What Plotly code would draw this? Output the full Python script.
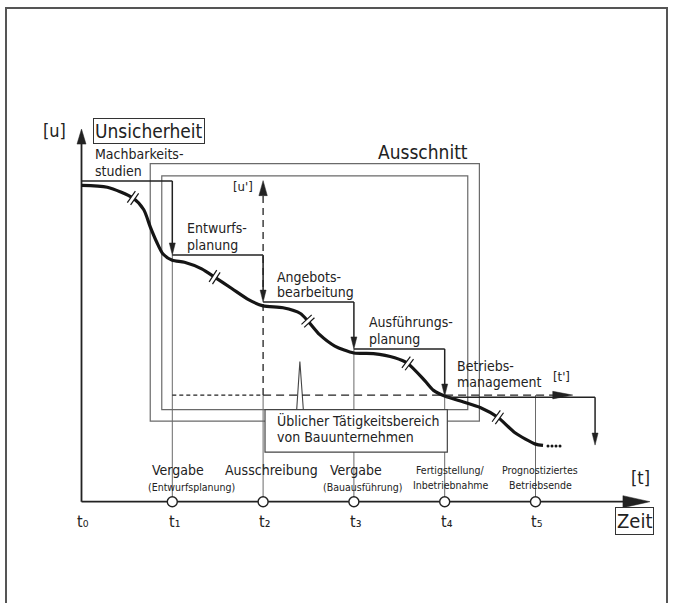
import math
import plotly.graph_objects as go

# ---------------- data (t = time in phase units, u = uncertainty) ----------------
tick_t = [0, 1, 2, 3, 4, 5]
tick_names = ["t₀", "t₁", "t₂", "t₃", "t₄", "t₅"]

curve_t = [0.0, 0.284, 0.567, 0.686, 0.757, 0.828, 0.898, 1.0, 1.134, 1.324, 1.466, 1.655, 1.845, 2.0,
           2.219, 2.411, 2.494, 2.623, 2.790, 3.0, 3.215, 3.45, 3.593, 3.783, 3.877, 4.0,
           4.207, 4.396, 4.585, 4.774, 5.0, 5.083]
curve_u = [10.0, 9.94, 9.60, 9.23, 8.69, 8.21, 7.83, 7.63, 7.57, 7.36, 7.10, 6.74, 6.38, 6.19,
           6.13, 5.95, 5.71, 5.28, 4.92, 4.70, 4.68, 4.55, 4.37, 3.82, 3.52, 3.34,
           3.15, 2.97, 2.67, 2.18, 1.82, 1.78]
dots_t = [5.138, 5.182, 5.226, 5.270]
dots_u = [1.76, 1.76, 1.76, 1.76]

break_t = [0.567, 1.466, 2.494, 3.593, 4.585]
break_u = [9.60, 7.10, 5.71, 4.37, 2.67]
break_angle = [35, 33, 47, 37, 36]

phase_names = [["Machbarkeits-", "studien"], ["Entwurfs-", "planung"], ["Angebots-", "bearbeitung"],
               ["Ausführungs-", "planung"], ["Betriebs-", "management"]]
step_start = [0, 1, 2, 3, 4]
step_end = [1, 2, 3, 4, 5.656]
step_level = [10.14, 7.80, 6.31, 4.83, 3.30]
step_tip = [7.80, 6.31, 4.83, 3.34, 1.79]

milestone_main = ["Vergabe", "Ausschreibung", "Vergabe"]
milestone_sub = ["(Entwurfsplanung)", "", "(Bauausführung)"]
milestone_small = [["Fertigstellung/", "Inbetriebnahme"], ["Prognostiziertes", "Betriebsende"]]

# ---------------- geometry helpers ----------------
PX_T = 90.8    # pixels per t unit
PX_U = 31.63   # pixels per u unit
T_RANGE = [-0.8976, 6.5143]
U_RANGE = [-3.2027, 15.861]

FONT = "DejaVu Sans Condensed, Liberation Sans Narrow, DejaVu Sans, sans-serif"
INK = "#222222"
GREY = "#6a6a6a"

shapes = []
annotations = []


def seg(x0, y0, x1, y1, color=GREY, width=1.0, dash="solid", layer="below"):
    shapes.append(dict(type="line", xref="x", yref="y", x0=x0, y0=y0, x1=x1, y1=y1,
                       line=dict(color=color, width=width, dash=dash), layer=layer))


def rect(x0, y0, x1, y1, color=GREY, width=1.2, fill="rgba(0,0,0,0)", layer="below"):
    shapes.append(dict(type="rect", xref="x", yref="y", x0=x0, y0=y0, x1=x1, y1=y1,
                       line=dict(color=color, width=width), fillcolor=fill, layer=layer))


def head(tt, uu, d, length, half):
    dt, du = half / PX_T, half / PX_U
    lt, lu = length / PX_T, length / PX_U
    if d == "down":
        pts = [(tt, uu), (tt - dt, uu + lu), (tt + dt, uu + lu)]
    elif d == "up":
        pts = [(tt, uu), (tt - dt, uu - lu), (tt + dt, uu - lu)]
    else:
        pts = [(tt, uu), (tt - lt, uu + du), (tt - lt, uu - du)]
    path = "M {} {} L {} {} L {} {} Z".format(*[v for p in pts for v in p])
    shapes.append(dict(type="path", xref="x", yref="y", path=path, fillcolor=INK,
                       line=dict(color=INK, width=0.5), layer="above"))


def label(text, t, u, size, xanchor="center", border=False):
    a = dict(text=text, x=t, y=u, xref="x", yref="y", showarrow=False, xanchor=xanchor,
             yanchor="middle", font=dict(family=FONT, size=size, color=INK))
    if border:
        a.update(bordercolor="#333333", borderwidth=1, borderpad=1, bgcolor="white")
    annotations.append(a)


# outer page frame
shapes.append(dict(type="rect", xref="paper", yref="paper", x0=6 / 673, x1=667 / 673,
                   y0=-0.3, y1=1 - 8 / 603, line=dict(color="#555555", width=2), layer="below"))

# guide lines down to the time axis
seg(tick_t[1], step_level[1], tick_t[1], 0)
seg(tick_t[2], 3.37, tick_t[2], 0)
seg(tick_t[3], step_level[3], tick_t[3], 0)
seg(tick_t[4], step_level[4], tick_t[4], 0)
seg(tick_t[5], 3.37, tick_t[5], 0)

# Ausschnitt boxes
rect(0.757, 2.55, 4.382, 10.69)
rect(0.884, 2.91, 4.254, 10.30)
# typical range of construction companies: box with spike
rect(2.021, 1.57, 4.029, 2.91, color="#444444", width=1.2, fill="white")
shapes.append(dict(type="path", xref="x", yref="y",
                   path="M 2.37 2.91 L 2.405 4.43 L 2.443 2.91", line=dict(color="#444444", width=1.1),
                   layer="below"))

# main axes
seg(0, 0, 0, 11.5, color=INK, width=1.8)
seg(0, 0, 6.1, 0, color=INK, width=1.8)
head(0, 11.78, "up", 15, 4.5)
head(6.26, 0, "right", 27, 6)

# u' axis (dashed) and t' axis (dashed)
seg(2, 3.37, 2, 9.75, color=INK, width=1.3, dash="7px,5px")
head(2, 10.15, "up", 15, 4.2)
seg(1, 3.37, 2, 3.37, color=INK, width=1.3, dash="4px,3px")
seg(2, 3.37, 5.2, 3.37, color=INK, width=1.3, dash="8px,5px")
head(5.41, 3.37, "right", 20, 3.8)

# phase steps with arrows
for i in range(5):
    seg(step_start[i], step_level[i], step_end[i], step_level[i], color=INK, width=1.5, layer="above")
    seg(step_end[i], step_level[i], step_end[i], step_tip[i] + 0.3, color=INK, width=1.5, layer="above")
    head(step_end[i], step_tip[i], "down", 12, 3.0)

fig = go.Figure()

# uncertainty curve
fig.add_trace(go.Scatter(x=curve_t, y=curve_u, mode="lines",
                         line=dict(color="#151515", width=3.2, shape="spline", smoothing=0.7),
                         hoverinfo="skip"))
fig.add_trace(go.Scatter(x=dots_t, y=dots_u, mode="markers",
                         marker=dict(symbol="circle", size=3, color="#151515"), hoverinfo="skip"))

# curve breaks: white gap plus two short strokes on either side of it
fig.add_trace(go.Scatter(x=break_t, y=break_u, mode="markers",
                         marker=dict(symbol="line-ns", size=9, angle=break_angle,
                                     line=dict(color="white", width=4)), hoverinfo="skip"))
for sgn in (-1, 1):
    bx = [t + sgn * 2.0 * math.cos(math.radians(a)) / PX_T for t, a in zip(break_t, break_angle)]
    by = [u - sgn * 2.0 * math.sin(math.radians(a)) / PX_U for u, a in zip(break_u, break_angle)]
    fig.add_trace(go.Scatter(x=bx, y=by, mode="markers",
                             marker=dict(symbol="line-ns", size=10, angle=break_angle,
                                         line=dict(color="#151515", width=1.2)), hoverinfo="skip"))

# milestone circles
fig.add_trace(go.Scatter(x=tick_t[1:], y=[0] * 5, mode="markers",
                         marker=dict(symbol="circle", size=10, color="white",
                                     line=dict(color=INK, width=1.4)), hoverinfo="skip"))

# ---------------- text ----------------
label("[u]", -0.292, 11.72, 18)
label("Unsicherheit", 0.738, 11.72, 19, border=True)
label("Ausschnitt", 3.761, 11.06, 19)
label("[u']", 1.784, 9.95, 13)
label("[t']", 5.289, 3.95, 13)
label("[t]", 6.151, 0.78, 18)
label("Zeit", 6.085, -0.61, 20, border=True)

phase_pos = [(0.132, 10.99, 10.47), (1.14, 8.64, 8.12), (2.131, 7.11, 6.64),
             (3.14, 5.69, 5.13), (4.113, 4.29, 3.77)]
for (l1, l2), (x, y1, y2) in zip(phase_names, phase_pos):
    label(l1, x, y1, 14, xanchor="left")
    label(l2, x, y2, 14, xanchor="left")

label("Üblicher Tätigkeitsbereich", 2.131, 2.58, 14, xanchor="left")
label("von Bauunternehmen", 2.131, 2.06, 14, xanchor="left")

main_x = [1.063, 2.087, 3.023]
sub_x = [1.206, None, 3.100]
for i in range(3):
    label(milestone_main[i], main_x[i], 1.00, 14)
    if milestone_sub[i]:
        label(milestone_sub[i], sub_x[i], 0.465, 10.5)
small_x = [4.069, 5.05]
for i in range(2):
    label(milestone_small[i][0], small_x[i], 1.00, 10.5)
    label(milestone_small[i][1], small_x[i], 0.52, 10.5)

for t, name in zip(tick_t, tick_names):
    label(name, t + 0.02, -0.63, 16)

fig.update_layout(
    width=673, height=603, autosize=False,
    margin=dict(l=0, r=0, t=0, b=0, pad=0),
    paper_bgcolor="white", plot_bgcolor="white",
    showlegend=False, hovermode=False,
    xaxis=dict(range=T_RANGE, visible=False, fixedrange=True),
    yaxis=dict(range=U_RANGE, visible=False, fixedrange=True),
    shapes=shapes, annotations=annotations,
)

fig.write_html("out.html", config={"displayModeBar": False},
               post_script="document.body.style.margin='0';")
